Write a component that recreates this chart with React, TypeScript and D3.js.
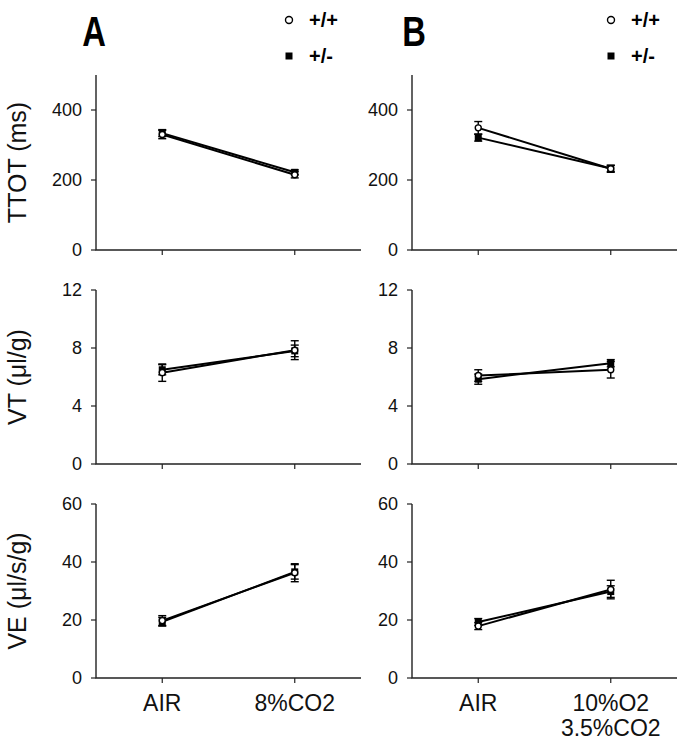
import React from "react";
import * as d3 from "d3";

// ---- Data ----
const categoriesA = ["AIR", "8%CO2"];
const categoriesB = ["AIR", "10%O2\n3.5%CO2"];

const legendLabels = ["+/+", "+/-"];
const panelLetters = ["A", "B"];
const rowLabels = ["TTOT (ms)", "VT (\u03bcl/g)", "VE (\u03bcl/s/g)"];

const ttotTicks = [0, 200, 400];
const vtTicks = [0, 4, 8, 12];
const veTicks = [0, 20, 40, 60];

// Column A (8% CO2)
const ttotA_wt = [330, 215];
const ttotA_wtErr = [12, 9];
const ttotA_het = [334, 222];
const ttotA_hetErr = [10, 7];

const vtA_wt = [6.3, 7.85];
const vtA_wtErr = [0.6, 0.65];
const vtA_het = [6.5, 7.8];
const vtA_hetErr = [0.35, 0.4];

const veA_wt = [19.8, 36.3];
const veA_wtErr = [1.7, 3.1];
const veA_het = [19.4, 36.6];
const veA_hetErr = [1.5, 2.5];

// Column B (10% O2 / 3.5% CO2)
const ttotB_wt = [349, 232];
const ttotB_wtErr = [18, 10];
const ttotB_het = [321, 233];
const ttotB_hetErr = [10, 9];

const vtB_wt = [6.1, 6.5];
const vtB_wtErr = [0.4, 0.57];
const vtB_het = [5.85, 6.95];
const vtB_hetErr = [0.35, 0.25];

const veB_wt = [17.9, 30.5];
const veB_wtErr = [1.2, 3.2];
const veB_het = [19.3, 29.8];
const veB_hetErr = [1.2, 2.0];

// ---- Layout ----
const FONT = "'Liberation Sans', Arial, Helvetica, sans-serif";
const colX = [96, 412];
const plotW = 265;
const rows = [
  { bottom: 250, top: 75, domain: [0, 500], ticks: ttotTicks },
  { bottom: 464, top: 290, domain: [0, 12], ticks: vtTicks },
  { bottom: 678, top: 504, domain: [0, 60], ticks: veTicks },
];

type Series = { vals: number[]; errs: number[]; kind: "circle" | "square" };

const data: Series[][][] = [
  [
    [
      { vals: ttotA_het, errs: ttotA_hetErr, kind: "square" },
      { vals: ttotA_wt, errs: ttotA_wtErr, kind: "circle" },
    ],
    [
      { vals: vtA_het, errs: vtA_hetErr, kind: "square" },
      { vals: vtA_wt, errs: vtA_wtErr, kind: "circle" },
    ],
    [
      { vals: veA_het, errs: veA_hetErr, kind: "square" },
      { vals: veA_wt, errs: veA_wtErr, kind: "circle" },
    ],
  ],
  [
    [
      { vals: ttotB_het, errs: ttotB_hetErr, kind: "square" },
      { vals: ttotB_wt, errs: ttotB_wtErr, kind: "circle" },
    ],
    [
      { vals: vtB_het, errs: vtB_hetErr, kind: "square" },
      { vals: vtB_wt, errs: vtB_wtErr, kind: "circle" },
    ],
    [
      { vals: veB_het, errs: veB_hetErr, kind: "square" },
      { vals: veB_wt, errs: veB_wtErr, kind: "circle" },
    ],
  ],
];

function Panel({ col, row }: { col: number; row: number }) {
  const cats = col === 0 ? categoriesA : categoriesB;
  const x0 = colX[col];
  const r = rows[row];
  const x = d3.scalePoint<string>().domain(cats).range([x0, x0 + plotW]).padding(0.5);
  const y = d3.scaleLinear().domain(r.domain).range([r.bottom, r.top]);
  const line = d3
    .line<number>()
    .x((_, i) => x(cats[i]) as number)
    .y((d) => y(d));
  const series = data[col][row];
  return (
    <g>
      {/* axes */}
      <path
        d={`M${x0},${y(r.domain[1])}V${y(0)}H${x0 + plotW}`}
        fill="none"
        stroke="#222"
        strokeWidth={1.4}
      />
      {r.ticks.map((t) => (
        <g key={t}>
          <line x1={x0 - 5} x2={x0} y1={y(t)} y2={y(t)} stroke="#222" strokeWidth={1.2} />
          <text
            x={x0 - 14}
            y={y(t)}
            dy="0.36em"
            textAnchor="end"
            fontSize={18}
            fontFamily={FONT}
            fill="#111"
          >
            {t}
          </text>
        </g>
      ))}
      {cats.map((c) => (
        <line
          key={c}
          x1={x(c)}
          x2={x(c)}
          y1={y(0)}
          y2={y(0) + 5}
          stroke="#222"
          strokeWidth={1.2}
        />
      ))}
      {row === 2 &&
        cats.map((c) => {
          const parts = c.split("\n");
          return (
            <text
              key={c}
              x={x(c)}
              y={y(0) + 33}
              textAnchor="middle"
              fontSize={23}
              fontFamily={FONT}
              fill="#111"
            >
              {parts.map((p, i) => (
                <tspan key={i} x={x(c)} dy={i === 0 ? 0 : 25}>
                  {p}
                </tspan>
              ))}
            </text>
          );
        })}
      {/* lines */}
      {series.map((s, si) => (
        <path key={"l" + si} d={line(s.vals) || ""} fill="none" stroke="#000" strokeWidth={2} />
      ))}
      {/* error bars + markers */}
      {series.map((s, si) =>
        s.vals.map((v, i) => {
          const cx = x(cats[i]) as number;
          const yt = y(v + s.errs[i]);
          const yb = y(v - s.errs[i]);
          return (
            <g key={"m" + si + "-" + i}>
              <line x1={cx} x2={cx} y1={yt} y2={yb} stroke="#000" strokeWidth={1.4} />
              <line x1={cx - 4} x2={cx + 4} y1={yt} y2={yt} stroke="#000" strokeWidth={1.4} />
              <line x1={cx - 4} x2={cx + 4} y1={yb} y2={yb} stroke="#000" strokeWidth={1.4} />
              {s.kind === "square" ? (
                <rect x={cx - 3.5} y={y(v) - 3.5} width={7} height={7} fill="#000" />
              ) : (
                <circle cx={cx} cy={y(v)} r={3} fill="#fff" stroke="#000" strokeWidth={1.4} />
              )}
            </g>
          );
        })
      )}
    </g>
  );
}

export default function App() {
  const legendX = [289, 611];
  const letterX = [94, 414];
  return (
    <svg
      width={685}
      height={743}
      style={{ position: "absolute", left: 0, top: 0, background: "#fff" }}
    >
      <rect width={685} height={743} fill="#fff" />
      {panelLetters.map((L, i) => (
        <text
          key={L}
          x={letterX[i]}
          y={46}
          textAnchor="middle"
          fontSize={42}
          fontWeight="bold"
          fontFamily={FONT}
          transform={`translate(${letterX[i]},0) scale(0.78,1) translate(${-letterX[i]},0)`}
        >
          {L}
        </text>
      ))}
      {legendX.map((lx, i) => (
        <g key={i}>
          <circle cx={lx} cy={20} r={3.5} fill="#fff" stroke="#000" strokeWidth={1.4} />
          <rect x={lx - 3.5} y={52.5} width={7} height={7} fill="#000" />
          <text x={lx + 20} y={20} dy="0.36em" fontSize={20} fontWeight="bold" fontFamily={FONT}>
            {legendLabels[0]}
          </text>
          <text x={lx + 20} y={56} dy="0.36em" fontSize={20} fontWeight="bold" fontFamily={FONT}>
            {legendLabels[1]}
          </text>
        </g>
      ))}
      {rowLabels.map((lab, ri) => {
        const cy = (rows[ri].top + rows[ri].bottom) / 2;
        return (
          <text
            key={lab}
            transform={`translate(17,${cy}) rotate(-90)`}
            textAnchor="middle"
            dy="0.36em"
            fontSize={25}
            fontFamily={FONT}
            fill="#111"
          >
            {lab}
          </text>
        );
      })}
      {[0, 1].map((c) => [0, 1, 2].map((r) => <Panel key={c + "-" + r} col={c} row={r} />))}
    </svg>
  );
}
